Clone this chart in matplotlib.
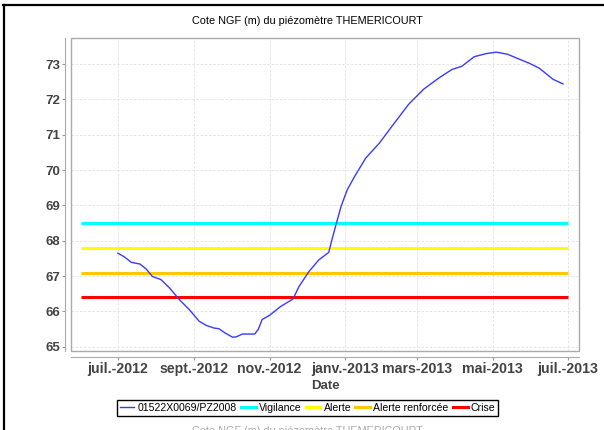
import numpy as np
import matplotlib
matplotlib.use('Agg')
import matplotlib.pyplot as plt
import matplotlib.dates as mdates
from matplotlib.patches import Rectangle
from matplotlib.lines import Line2D

plt.rcParams['font.family'] = ['Liberation Sans', 'DejaVu Sans']

# Donnees
dates = np.array([
    '2012-07-01', '2012-07-06', '2012-07-12', '2012-07-19', '2012-07-24',
    '2012-07-29', '2012-08-05', '2012-08-12', '2012-08-20', '2012-08-28',
    '2012-09-05', '2012-09-11', '2012-09-17', '2012-09-21', '2012-09-26',
    '2012-10-02', '2012-10-05', '2012-10-10', '2012-10-20', '2012-10-23',
    '2012-10-26', '2012-11-01', '2012-11-10', '2012-11-20', '2012-11-25',
    '2012-12-03', '2012-12-11', '2012-12-19', '2012-12-22', '2012-12-26',
    '2012-12-29', '2013-01-03', '2013-01-09', '2013-01-18', '2013-01-29',
    '2013-02-10', '2013-02-22', '2013-03-06', '2013-03-18', '2013-03-29',
    '2013-04-06', '2013-04-16', '2013-04-26', '2013-05-04', '2013-05-13',
    '2013-05-31', '2013-06-08', '2013-06-19', '2013-06-27',
], dtype='datetime64[D]')
cote = [
    67.65, 67.55, 67.39, 67.34, 67.20,
    66.99, 66.90, 66.66, 66.33, 66.05,
    65.72, 65.60, 65.53, 65.51, 65.39,
    65.27, 65.28, 65.36, 65.36, 65.50,
    65.77, 65.89, 66.14, 66.35, 66.71,
    67.13, 67.46, 67.67, 68.08, 68.59,
    68.97, 69.44, 69.82, 70.34, 70.76,
    71.32, 71.87, 72.29, 72.60, 72.85,
    72.94, 73.21, 73.30, 73.34, 73.28,
    73.02, 72.88, 72.57, 72.44,
]

seuils_noms = ['Vigilance', 'Alerte', 'Alerte renforcée', 'Crise']
seuils_valeurs = [68.5, 67.8, 67.1, 66.4]
seuils_couleurs = ['#00ffff', '#ffff00', '#ffc800', '#ff0000']
seuil_debut = np.datetime64('2012-06-01')
seuil_fin = np.datetime64('2013-07-01')

tick_dates = np.array(['2012-07-01', '2012-09-01', '2012-11-01', '2013-01-01',
                       '2013-03-01', '2013-05-01', '2013-07-01'], dtype='datetime64[D]')
tick_labels = ['juil.-2012', 'sept.-2012', 'nov.-2012', 'janv.-2013',
               'mars-2013', 'mai-2013', 'juil.-2013']

titre = 'Cote NGF (m) du piézomètre THEMERICOURT'
nom_serie = '01522X0069/PZ2008'

W, H = 604, 430
fig = plt.figure(figsize=(W / 100, H / 100), dpi=100)
ax = fig.add_axes([71 / W, 1 - 351 / H, 508 / W, 313 / H])

ax.plot(dates, cote, color='#3a3aff', lw=1.0, label=nom_serie, zorder=3)
for nom, val, coul in zip(seuils_noms, seuils_valeurs, seuils_couleurs):
    ax.hlines(val, seuil_debut, seuil_fin, colors=coul, lw=2.2, label=nom, zorder=2)

ax.set_xlim(np.datetime64('2012-05-24'), np.datetime64('2013-07-10'))
ax.set_ylim(64.88, 73.74)
ax.set_yticks(range(65, 74))
ax.set_xticks(mdates.date2num(tick_dates))
ax.set_xticklabels(tick_labels)

ax.grid(True, color='#e0e0e0', ls=(0, (3, 2)), lw=0.6)
ax.set_axisbelow(True)

for s in ['top', 'right']:
    ax.spines[s].set_visible(False)
for s in ['left', 'bottom']:
    ax.spines[s].set_position(('outward', 4))
    ax.spines[s].set_color('#aaaaaa')
ax.add_patch(Rectangle((0, 0), 1, 1, transform=ax.transAxes, fill=False,
                       ec='#aaaaaa', lw=1.0, zorder=5, clip_on=False))

ax.tick_params(axis='both', length=2, color='#999999', labelcolor='#444444', pad=2)
ax.tick_params(axis='y', labelsize=9.5)
ax.tick_params(axis='x', labelsize=10.2)
for lab in ax.get_xticklabels() + ax.get_yticklabels():
    lab.set_fontweight('bold')

ax.set_xlabel('Date', fontsize=9.5, fontweight='bold', color='#444444', labelpad=3)

fig.text(307.5 / W, 1 - 21 / H, titre, ha='center', va='center', fontsize=7.8)
# titre repete, coupe par le bas de l'image
fig.text(307.5 / W, 1 - 426 / H, titre, ha='center', va='top', fontsize=7.8,
         color='#aaaaaa')

handles = [Line2D([], [], color='#3a3aff', lw=1.0)]
handles += [Line2D([], [], color=c, lw=2.2) for c in seuils_couleurs]
labels = [nom_serie] + seuils_noms
fig.legend(handles, labels, loc='center', bbox_to_anchor=(307.5 / W, 1 - 408 / H),
           ncol=5, fontsize=7.6, handlelength=1.4, handletextpad=0.3,
           columnspacing=0.4, borderpad=0.25, fancybox=False, edgecolor='black',
           framealpha=1)

fig.add_artist(Line2D([3 / W, 1], [1 - 5 / H, 1 - 5 / H], color='black', lw=1.6))
fig.add_artist(Line2D([4 / W, 4 / W], [0, 1 - 5 / H], color='black', lw=1.6))

fig.savefig('out.png', dpi=100)
